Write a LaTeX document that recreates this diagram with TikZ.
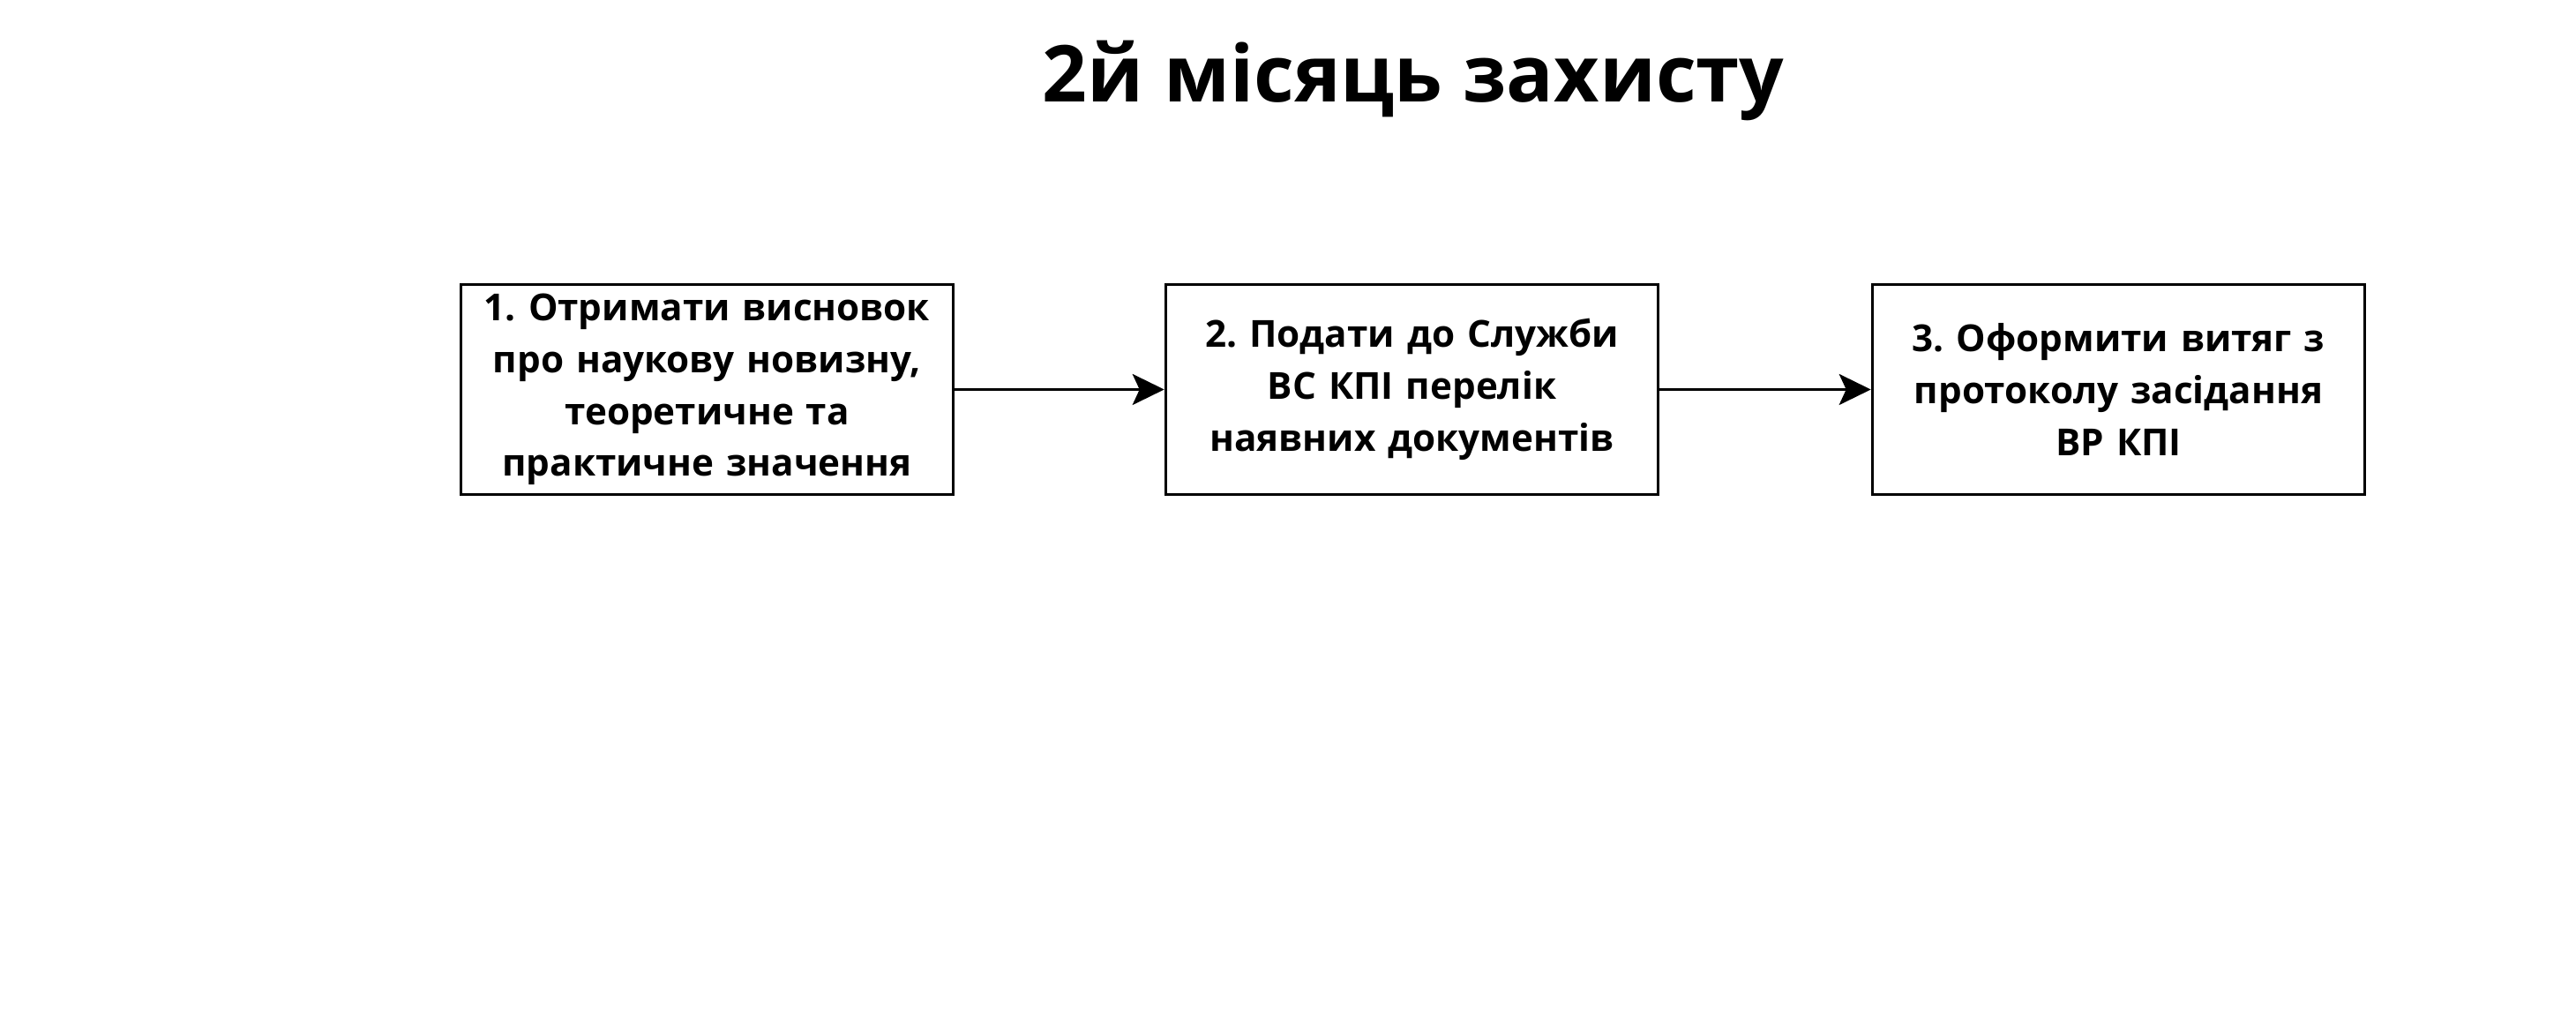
\documentclass[tikz,border=0pt]{standalone}
\usepackage{fontspec}
\setmainfont{Open Sans}
\frenchspacing
\usetikzlibrary{arrows.meta}

\begin{document}
\begin{tikzpicture}[
  font=\bfseries,
  blocco/.style={draw=black, line width=1pt, minimum width=5.58cm,
                 minimum height=2.38cm, text width=5.5cm, inner sep=0pt,
                 align=center, font=\fontsize{12}{16.7}\selectfont\bfseries},
  freccia/.style={draw=black, line width=0.9pt,
                  -{Stealth[length=0.36cm, width=0.35cm, inset=0.08cm]}},
  titolo/.style={anchor=base, font=\fontsize{25.3}{30}\selectfont\bfseries}
]

%--------------------------------------------------------------
% Cornice della pagina
%--------------------------------------------------------------
\useasboundingbox (0,0) rectangle (29.20,11.72);

%--------------------------------------------------------------
% Titolo
%--------------------------------------------------------------
\node[titolo] (titolo) at (16.02,10.56) {2й місяць захисту};

%--------------------------------------------------------------
% Passi del mese
%--------------------------------------------------------------
\node[blocco] (passo1) at (8.015,7.305)
  {1. Отримати висновок\\ про наукову новизну,\\ теоретичне та\\ практичне значення};
\node[blocco] (passo2) at (16.005,7.305)
  {2. Подати до Служби\\ ВС КПІ перелік\\ наявних документів};
\node[blocco] (passo3) at (24.015,7.305)
  {3. Оформити витяг з\\ протоколу засідання\\ ВР КПІ};

%--------------------------------------------------------------
% Frecce
%--------------------------------------------------------------
\draw[freccia] (passo1) -- (passo2);
\draw[freccia] (passo2) -- (passo3);

\end{tikzpicture}
\end{document}
